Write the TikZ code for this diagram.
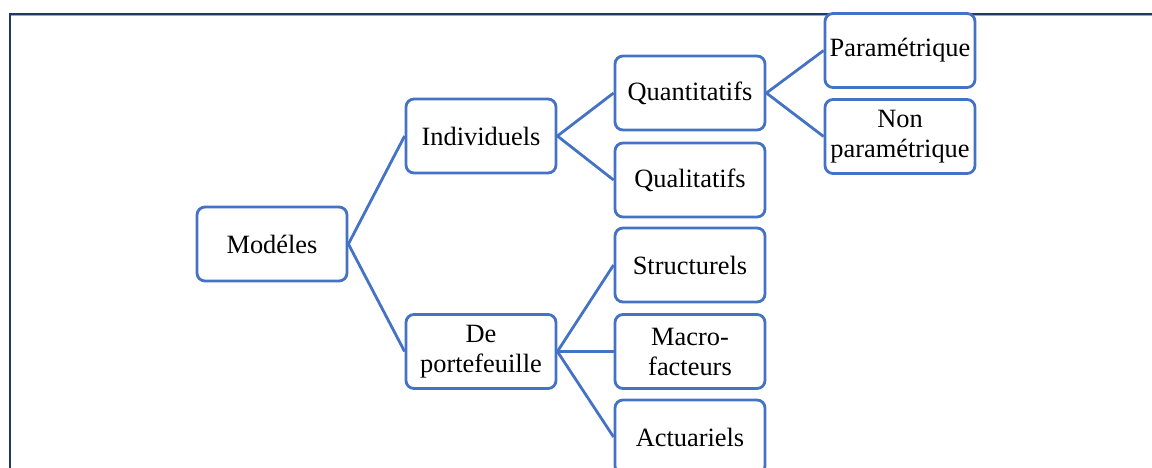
\documentclass[tikz,border=0pt]{standalone}
\usepackage{fontspec}
\setmainfont{Liberation Serif}
\definecolor{boxblue}{HTML}{4472C4}
\definecolor{framenavy}{HTML}{203864}
\definecolor{framelight}{HTML}{8FAADC}
\begin{document}
\begin{tikzpicture}[x=1pt,y=-1pt,
  box/.style={draw=boxblue, line width=2.8pt, rounded corners=8pt, fill=white,
    minimum width=150pt, minimum height=74pt, inner sep=2pt, align=center,
    text width=146pt, font=\fontsize{26.4}{30}\selectfont},
  link/.style={draw=boxblue, line width=2.8pt}]
\useasboundingbox (0,0) rectangle (1152,467);
\clip (0,0) rectangle (1152,467);
\fill[white] (0,0) rectangle (1152,467);
\draw[framelight, line width=1pt] (11,15.5) -- (1160,15.5);
\draw[framenavy, line width=2pt] (10,480) -- (10,14) -- (1160,14);

\node[box] (mod) at (272,244) {Modéles};
\node[box] (ind) at (481,136) {Individuels};
\node[box] (ptf) at (481,351.5) {De\\portefeuille};
\node[box] (qua) at (690,93) {Quantitatifs};
\node[box] (qual) at (690,180) {Qualitatifs};
\node[box] (str) at (690,265) {Structurels};
\node[box] (mac) at (690,351.5) {Macro-\\facteurs};
\node[box] (act) at (690,437) {Actuariels};
\node[box] (par) at (900,50.5) {Paramétrique};
\node[box] (npar) at (900,136.5) {Non\\paramétrique};

\draw[link] (mod.east) -- (ind.west);
\draw[link] (mod.east) -- (ptf.west);
\draw[link] (ind.east) -- (qua.west);
\draw[link] (ind.east) -- (qual.west);
\draw[link] (ptf.east) -- (str.west);
\draw[link] (ptf.east) -- (mac.west);
\draw[link] (ptf.east) -- (act.west);
\draw[link] (qua.east) -- (par.west);
\draw[link] (qua.east) -- (npar.west);
\end{tikzpicture}
\end{document}
